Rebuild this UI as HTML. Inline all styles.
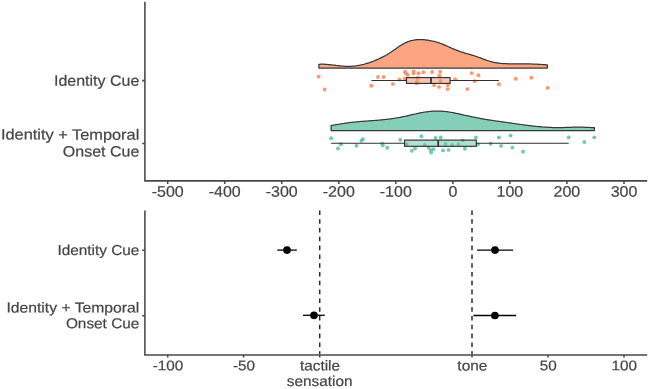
<!DOCTYPE html>
<html><head><meta charset="utf-8"><title>Raincloud plot</title>
<style>html,body{margin:0;padding:0;background:#fff;}body{width:649px;height:389px;position:relative;overflow:hidden;}</style>
</head><body>
<svg width="649" height="389" viewBox="0 0 649 389" style="position:absolute;left:0;top:0;will-change:transform">
<g fill="#FC8D62" fill-opacity="0.9">
<circle cx="318.7" cy="76.6" r="1.95"/>
<circle cx="324.6" cy="89.5" r="1.95"/>
<circle cx="378.0" cy="77.0" r="1.95"/>
<circle cx="383.5" cy="77.0" r="1.95"/>
<circle cx="371.3" cy="85.8" r="1.95"/>
<circle cx="392.9" cy="84.1" r="1.95"/>
<circle cx="399.4" cy="79.5" r="1.95"/>
<circle cx="405.0" cy="71.8" r="1.95"/>
<circle cx="405.8" cy="73.3" r="1.95"/>
<circle cx="407.7" cy="74.9" r="1.95"/>
<circle cx="404.7" cy="78.7" r="1.95"/>
<circle cx="413.5" cy="71.4" r="1.95"/>
<circle cx="413.5" cy="73.3" r="1.95"/>
<circle cx="418.5" cy="73.2" r="1.95"/>
<circle cx="423.3" cy="72.3" r="1.95"/>
<circle cx="432.1" cy="72.0" r="1.95"/>
<circle cx="417.4" cy="78.0" r="1.95"/>
<circle cx="416.6" cy="83.4" r="1.95"/>
<circle cx="417.0" cy="81.8" r="1.95"/>
<circle cx="434.1" cy="85.2" r="1.95"/>
<circle cx="439.0" cy="86.9" r="1.95"/>
<circle cx="439.4" cy="75.6" r="1.95"/>
<circle cx="440.2" cy="71.8" r="1.95"/>
<circle cx="440.4" cy="81.0" r="1.95"/>
<circle cx="447.7" cy="85.3" r="1.95"/>
<circle cx="447.6" cy="89.1" r="1.95"/>
<circle cx="455.1" cy="79.3" r="1.95"/>
<circle cx="467.2" cy="89.1" r="1.95"/>
<circle cx="471.7" cy="73.1" r="1.95"/>
<circle cx="474.7" cy="81.3" r="1.95"/>
<circle cx="478.4" cy="75.2" r="1.95"/>
<circle cx="498.9" cy="84.2" r="1.95"/>
<circle cx="515.7" cy="78.7" r="1.95"/>
<circle cx="531.3" cy="77.7" r="1.95"/>
<circle cx="547.6" cy="87.9" r="1.95"/>
</g>
<g fill="#66C2A5" fill-opacity="0.9">
<circle cx="331.1" cy="138.3" r="1.95"/>
<circle cx="340.8" cy="144.3" r="1.95"/>
<circle cx="338.0" cy="148.5" r="1.95"/>
<circle cx="356.5" cy="145.7" r="1.95"/>
<circle cx="361.4" cy="140.8" r="1.95"/>
<circle cx="362.8" cy="139.2" r="1.95"/>
<circle cx="382.2" cy="143.6" r="1.95"/>
<circle cx="382.8" cy="145.3" r="1.95"/>
<circle cx="387.1" cy="147.8" r="1.95"/>
<circle cx="400.3" cy="139.8" r="1.95"/>
<circle cx="421.4" cy="136.2" r="1.95"/>
<circle cx="435.5" cy="137.9" r="1.95"/>
<circle cx="440.7" cy="137.5" r="1.95"/>
<circle cx="406.6" cy="144.1" r="1.95"/>
<circle cx="424.7" cy="145.0" r="1.95"/>
<circle cx="445.5" cy="144.0" r="1.95"/>
<circle cx="415.0" cy="148.5" r="1.95"/>
<circle cx="411.8" cy="150.7" r="1.95"/>
<circle cx="428.7" cy="147.7" r="1.95"/>
<circle cx="430.9" cy="150.2" r="1.95"/>
<circle cx="433.3" cy="149.3" r="1.95"/>
<circle cx="431.2" cy="152.5" r="1.95"/>
<circle cx="443.0" cy="150.4" r="1.95"/>
<circle cx="448.6" cy="149.9" r="1.95"/>
<circle cx="475.9" cy="137.5" r="1.95"/>
<circle cx="462.7" cy="140.4" r="1.95"/>
<circle cx="452.3" cy="145.0" r="1.95"/>
<circle cx="458.5" cy="144.1" r="1.95"/>
<circle cx="478.0" cy="144.5" r="1.95"/>
<circle cx="490.7" cy="143.8" r="1.95"/>
<circle cx="464.9" cy="148.8" r="1.95"/>
<circle cx="498.9" cy="137.4" r="1.95"/>
<circle cx="510.6" cy="135.6" r="1.95"/>
<circle cx="501.1" cy="145.9" r="1.95"/>
<circle cx="512.4" cy="147.6" r="1.95"/>
<circle cx="523.1" cy="151.7" r="1.95"/>
<circle cx="568.7" cy="137.4" r="1.95"/>
<circle cx="584.3" cy="142.0" r="1.95"/>
<circle cx="594.3" cy="137.4" r="1.95"/>
</g>
<path d="M318.9,68.0 L318.9,64.3 L319.9,64.3 L320.9,64.2 L321.9,64.2 L322.9,64.2 L323.9,64.2 L324.9,64.3 L325.9,64.3 L326.9,64.4 L327.9,64.5 L328.9,64.5 L329.9,64.6 L330.9,64.8 L331.9,64.9 L332.9,65.0 L333.9,65.1 L334.9,65.2 L335.9,65.4 L336.9,65.5 L337.9,65.6 L338.9,65.7 L339.9,65.8 L340.9,65.9 L341.9,66.0 L342.9,66.1 L343.9,66.2 L344.9,66.3 L345.9,66.3 L346.9,66.4 L347.9,66.4 L348.9,66.4 L349.9,66.3 L350.9,66.3 L351.9,66.2 L352.9,66.2 L353.9,66.1 L354.9,66.0 L355.9,65.8 L356.9,65.7 L357.9,65.5 L358.9,65.4 L359.9,65.2 L360.9,65.0 L361.9,64.7 L362.9,64.5 L363.9,64.3 L364.9,64.0 L365.9,63.7 L366.9,63.4 L367.9,63.1 L368.9,62.8 L369.9,62.4 L370.9,62.1 L371.9,61.7 L372.9,61.4 L373.9,61.0 L374.9,60.6 L375.9,60.1 L376.9,59.7 L377.9,59.3 L378.9,58.8 L379.9,58.4 L380.9,57.9 L381.9,57.4 L382.9,56.9 L383.9,56.4 L384.9,55.9 L385.9,55.3 L386.9,54.7 L387.9,54.1 L388.9,53.5 L389.9,52.8 L390.9,52.2 L391.9,51.5 L392.9,50.8 L393.9,50.1 L394.9,49.4 L395.9,48.7 L396.9,48.0 L397.9,47.3 L398.9,46.6 L399.9,45.9 L400.9,45.3 L401.9,44.7 L402.9,44.1 L403.9,43.6 L404.9,43.0 L405.9,42.6 L406.9,42.1 L407.9,41.7 L408.9,41.4 L409.9,41.0 L410.9,40.7 L411.9,40.5 L412.9,40.3 L413.9,40.1 L414.9,39.9 L415.9,39.8 L416.9,39.7 L417.9,39.6 L418.9,39.5 L419.9,39.5 L420.9,39.5 L421.9,39.6 L422.9,39.6 L423.9,39.7 L424.9,39.8 L425.9,39.9 L426.9,40.1 L427.9,40.2 L428.9,40.4 L429.9,40.6 L430.9,40.8 L431.9,41.0 L432.9,41.2 L433.9,41.4 L434.9,41.7 L435.9,41.9 L436.9,42.2 L437.9,42.5 L438.9,42.8 L439.9,43.2 L440.9,43.5 L441.9,43.9 L442.9,44.3 L443.9,44.7 L444.9,45.1 L445.9,45.6 L446.9,46.0 L447.9,46.5 L448.9,46.9 L449.9,47.4 L450.9,47.8 L451.9,48.3 L452.9,48.7 L453.9,49.1 L454.9,49.5 L455.9,49.9 L456.9,50.3 L457.9,50.7 L458.9,51.1 L459.9,51.4 L460.9,51.8 L461.9,52.1 L462.9,52.4 L463.9,52.7 L464.9,53.1 L465.9,53.4 L466.9,53.7 L467.9,53.9 L468.9,54.2 L469.9,54.5 L470.9,54.8 L471.9,55.1 L472.9,55.4 L473.9,55.7 L474.9,56.0 L475.9,56.3 L476.9,56.7 L477.9,57.0 L478.9,57.4 L479.9,57.7 L480.9,58.1 L481.9,58.5 L482.9,58.9 L483.9,59.3 L484.9,59.6 L485.9,60.0 L486.9,60.4 L487.9,60.7 L488.9,61.0 L489.9,61.4 L490.9,61.6 L491.9,61.9 L492.9,62.1 L493.9,62.4 L494.9,62.6 L495.9,62.7 L496.9,62.9 L497.9,63.1 L498.9,63.2 L499.9,63.3 L500.9,63.4 L501.9,63.5 L502.9,63.6 L503.9,63.6 L504.9,63.7 L505.9,63.7 L506.9,63.7 L507.9,63.8 L508.9,63.8 L509.9,63.8 L510.9,63.8 L511.9,63.8 L512.9,63.8 L513.9,63.8 L514.9,63.8 L515.9,63.8 L516.9,63.8 L517.9,63.8 L518.9,63.8 L519.9,63.8 L520.9,63.8 L521.9,63.8 L522.9,63.8 L523.9,63.8 L524.9,63.8 L525.9,63.8 L526.9,63.8 L527.9,63.9 L528.9,63.9 L529.9,63.9 L530.9,63.9 L531.9,64.0 L532.9,64.0 L533.9,64.1 L534.9,64.1 L535.9,64.1 L536.9,64.2 L537.9,64.3 L538.9,64.3 L539.9,64.4 L540.9,64.4 L541.9,64.5 L542.9,64.6 L543.9,64.7 L544.9,64.7 L545.9,64.8 L546.9,64.9 L547.4,64.9 L547.4,68.0 Z" fill="#FC8D62" fill-opacity="0.8" stroke="#383838" stroke-width="1.25" stroke-linejoin="round"/>
<path d="M331.1,130.6 L331.1,125.6 L332.1,125.4 L333.1,125.2 L334.1,125.0 L335.1,124.9 L336.1,124.7 L337.1,124.5 L338.1,124.3 L339.1,124.2 L340.1,124.0 L341.1,123.8 L342.1,123.7 L343.1,123.5 L344.1,123.4 L345.1,123.2 L346.1,123.1 L347.1,122.9 L348.1,122.8 L349.1,122.7 L350.1,122.5 L351.1,122.4 L352.1,122.3 L353.1,122.2 L354.1,122.1 L355.1,122.0 L356.1,121.9 L357.1,121.8 L358.1,121.7 L359.1,121.6 L360.1,121.5 L361.1,121.4 L362.1,121.4 L363.1,121.3 L364.1,121.2 L365.1,121.1 L366.1,121.1 L367.1,121.0 L368.1,120.9 L369.1,120.9 L370.1,120.8 L371.1,120.7 L372.1,120.7 L373.1,120.6 L374.1,120.5 L375.1,120.4 L376.1,120.4 L377.1,120.3 L378.1,120.2 L379.1,120.1 L380.1,120.0 L381.1,119.9 L382.1,119.8 L383.1,119.7 L384.1,119.6 L385.1,119.5 L386.1,119.4 L387.1,119.3 L388.1,119.1 L389.1,119.0 L390.1,118.9 L391.1,118.8 L392.1,118.6 L393.1,118.5 L394.1,118.3 L395.1,118.2 L396.1,118.0 L397.1,117.8 L398.1,117.7 L399.1,117.5 L400.1,117.3 L401.1,117.1 L402.1,116.9 L403.1,116.7 L404.1,116.5 L405.1,116.3 L406.1,116.1 L407.1,115.9 L408.1,115.6 L409.1,115.4 L410.1,115.2 L411.1,114.9 L412.1,114.7 L413.1,114.5 L414.1,114.2 L415.1,114.0 L416.1,113.8 L417.1,113.5 L418.1,113.3 L419.1,113.1 L420.1,112.9 L421.1,112.7 L422.1,112.5 L423.1,112.4 L424.1,112.2 L425.1,112.0 L426.1,111.9 L427.1,111.8 L428.1,111.6 L429.1,111.5 L430.1,111.4 L431.1,111.3 L432.1,111.2 L433.1,111.2 L434.1,111.1 L435.1,111.1 L436.1,111.1 L437.1,111.0 L438.1,111.0 L439.1,111.1 L440.1,111.1 L441.1,111.1 L442.1,111.2 L443.1,111.3 L444.1,111.4 L445.1,111.5 L446.1,111.6 L447.1,111.7 L448.1,111.8 L449.1,112.0 L450.1,112.2 L451.1,112.3 L452.1,112.5 L453.1,112.7 L454.1,112.9 L455.1,113.1 L456.1,113.3 L457.1,113.5 L458.1,113.7 L459.1,113.9 L460.1,114.1 L461.1,114.4 L462.1,114.6 L463.1,114.8 L464.1,115.0 L465.1,115.3 L466.1,115.5 L467.1,115.7 L468.1,115.9 L469.1,116.1 L470.1,116.4 L471.1,116.6 L472.1,116.8 L473.1,117.0 L474.1,117.2 L475.1,117.4 L476.1,117.6 L477.1,117.8 L478.1,118.0 L479.1,118.2 L480.1,118.4 L481.1,118.6 L482.1,118.8 L483.1,118.9 L484.1,119.1 L485.1,119.3 L486.1,119.5 L487.1,119.6 L488.1,119.8 L489.1,119.9 L490.1,120.1 L491.1,120.2 L492.1,120.4 L493.1,120.5 L494.1,120.7 L495.1,120.8 L496.1,121.0 L497.1,121.1 L498.1,121.2 L499.1,121.4 L500.1,121.5 L501.1,121.6 L502.1,121.8 L503.1,121.9 L504.1,122.1 L505.1,122.2 L506.1,122.4 L507.1,122.5 L508.1,122.7 L509.1,122.8 L510.1,122.9 L511.1,123.1 L512.1,123.2 L513.1,123.4 L514.1,123.5 L515.1,123.7 L516.1,123.8 L517.1,124.0 L518.1,124.1 L519.1,124.3 L520.1,124.4 L521.1,124.5 L522.1,124.7 L523.1,124.8 L524.1,124.9 L525.1,125.1 L526.1,125.2 L527.1,125.3 L528.1,125.5 L529.1,125.6 L530.1,125.7 L531.1,125.8 L532.1,125.9 L533.1,126.1 L534.1,126.2 L535.1,126.3 L536.1,126.4 L537.1,126.5 L538.1,126.6 L539.1,126.7 L540.1,126.7 L541.1,126.8 L542.1,126.9 L543.1,127.0 L544.1,127.1 L545.1,127.1 L546.1,127.2 L547.1,127.2 L548.1,127.3 L549.1,127.3 L550.1,127.4 L551.1,127.4 L552.1,127.5 L553.1,127.5 L554.1,127.5 L555.1,127.5 L556.1,127.5 L557.1,127.5 L558.1,127.6 L559.1,127.5 L560.1,127.5 L561.1,127.5 L562.1,127.5 L563.1,127.5 L564.1,127.5 L565.1,127.4 L566.1,127.4 L567.1,127.4 L568.1,127.3 L569.1,127.3 L570.1,127.3 L571.1,127.3 L572.1,127.2 L573.1,127.2 L574.1,127.2 L575.1,127.2 L576.1,127.2 L577.1,127.1 L578.1,127.1 L579.1,127.2 L580.1,127.2 L581.1,127.2 L582.1,127.2 L583.1,127.2 L584.1,127.2 L585.1,127.3 L586.1,127.3 L587.1,127.4 L588.1,127.4 L589.1,127.4 L590.1,127.5 L591.1,127.5 L592.1,127.6 L593.1,127.6 L594.1,127.7 L594.4,127.7 L594.4,130.6 Z" fill="#66C2A5" fill-opacity="0.8" stroke="#383838" stroke-width="1.25" stroke-linejoin="round"/>
<g stroke="#303030" stroke-width="1.15" fill="none">
<path d="M371.4,80.5 H406.5 M450.1,80.5 H498.9"/>
<rect x="406.5" y="77.6" width="43.6" height="5.8" fill="#FC8D62" fill-opacity="0.5"/>
<path d="M431,77.6 V83.4" stroke-width="1.7"/>
<path d="M331.1,143.2 H404.6 M476.3,143.2 H568.7"/>
<rect x="404.6" y="140.1" width="71.7" height="6.2" fill="#66C2A5" fill-opacity="0.5"/>
<path d="M438.2,140.1 V146.3" stroke-width="1.7"/>
</g>
<g stroke="#484848" stroke-width="1.55" fill="none">
<path d="M144.9,1.8 V180.85 H647.2"/>
<path d="M167.7,180.8 V184.0"/>
<path d="M224.7,180.8 V184.0"/>
<path d="M281.7,180.8 V184.0"/>
<path d="M338.8,180.8 V184.0"/>
<path d="M395.8,180.8 V184.0"/>
<path d="M452.9,180.8 V184.0"/>
<path d="M509.9,180.8 V184.0"/>
<path d="M566.9,180.8 V184.0"/>
<path d="M624.0,180.8 V184.0"/>
<path d="M142.2,80.6 H144.9 M142.2,143.4 H144.9"/>
<path d="M144.9,210.6 V354.95 H647.2"/>
<path d="M167.7,354.9 V357.5"/>
<path d="M243.6,354.9 V357.5"/>
<path d="M319.7,354.9 V357.5"/>
<path d="M472.0,354.9 V357.5"/>
<path d="M548.0,354.9 V357.5"/>
<path d="M624.0,354.9 V357.5"/>
<path d="M142.2,250.2 H144.9 M142.2,315.8 H144.9"/>
</g>
<path d="M319.7,210.4 V354 M472,210.4 V354" stroke="#2a2a2a" stroke-width="1.5" stroke-dasharray="4.55,4.25" fill="none"/>
<g stroke="#000" stroke-width="1.3" fill="#000">
<path d="M277.3,250.1 H296.8"/>
<circle cx="287.0" cy="250.1" r="3.85" stroke="none"/>
<path d="M303.0,315.3 H324.8"/>
<circle cx="314.0" cy="315.3" r="3.85" stroke="none"/>
<path d="M477.1,250.1 H513.1"/>
<circle cx="495.0" cy="250.1" r="3.85" stroke="none"/>
<path d="M473.4,315.5 H516.2"/>
<circle cx="494.9" cy="315.5" r="3.85" stroke="none"/>
</g>
<g font-family="'Liberation Sans', Arial, sans-serif" font-size="15" fill="#444" stroke="#444" stroke-width="0.2">
<text transform="translate(167.7,196.7) scale(1.040,1) rotate(0.05)" text-anchor="middle" font-size="15.4">-500</text>
<text transform="translate(224.7,196.7) scale(1.040,1) rotate(0.05)" text-anchor="middle" font-size="15.4">-400</text>
<text transform="translate(281.7,196.7) scale(1.040,1) rotate(0.05)" text-anchor="middle" font-size="15.4">-300</text>
<text transform="translate(338.8,196.7) scale(1.040,1) rotate(0.05)" text-anchor="middle" font-size="15.4">-200</text>
<text transform="translate(395.8,196.7) scale(1.040,1) rotate(0.05)" text-anchor="middle" font-size="15.4">-100</text>
<text transform="translate(452.9,196.7) scale(1.040,1) rotate(0.05)" text-anchor="middle" font-size="15.4">0</text>
<text transform="translate(509.9,196.7) scale(1.040,1) rotate(0.05)" text-anchor="middle" font-size="15.4">100</text>
<text transform="translate(566.9,196.7) scale(1.040,1) rotate(0.05)" text-anchor="middle" font-size="15.4">200</text>
<text transform="translate(624.0,196.7) scale(1.040,1) rotate(0.05)" text-anchor="middle" font-size="15.4">300</text>
<text transform="translate(139.3,85.7) scale(1.067,1) rotate(0.05)" text-anchor="end">Identity Cue</text>
<text transform="translate(139.3,139.7) scale(1.092,1) rotate(0.05)" text-anchor="end">Identity + Temporal</text>
<text transform="translate(139.3,156.5) scale(1.067,1) rotate(0.05)" text-anchor="end">Onset Cue</text>
<text transform="translate(139.3,255.1) scale(1.067,1) rotate(0.05)" text-anchor="end" font-size="14.4">Identity Cue</text>
<text transform="translate(139.3,312.5) scale(1.092,1) rotate(0.05)" text-anchor="end" font-size="14.4">Identity + Temporal</text>
<text transform="translate(139.3,328.2) scale(1.067,1) rotate(0.05)" text-anchor="end" font-size="14.4">Onset Cue</text>
<text transform="translate(168.0,370.3) scale(1.090,1) rotate(0.05)" text-anchor="middle" font-size="14.0">-100</text>
<text transform="translate(243.9,370.3) scale(1.090,1) rotate(0.05)" text-anchor="middle" font-size="14.0">-50</text>
<text transform="translate(320.0,370.6) scale(1.067,1) rotate(0.05)" text-anchor="middle" font-size="14.4">tactile</text>
<text transform="translate(472.3,370.6) scale(1.067,1) rotate(0.05)" text-anchor="middle" font-size="14.4">tone</text>
<text transform="translate(548.3,370.3) scale(1.090,1) rotate(0.05)" text-anchor="middle" font-size="14.0">50</text>
<text transform="translate(624.3,370.3) scale(1.090,1) rotate(0.05)" text-anchor="middle" font-size="14.0">100</text>
<text transform="translate(319.7,386.1) scale(1.067,1) rotate(0.05)" text-anchor="middle" font-size="14.4">sensation</text>
</g>
</svg>
</body></html>
